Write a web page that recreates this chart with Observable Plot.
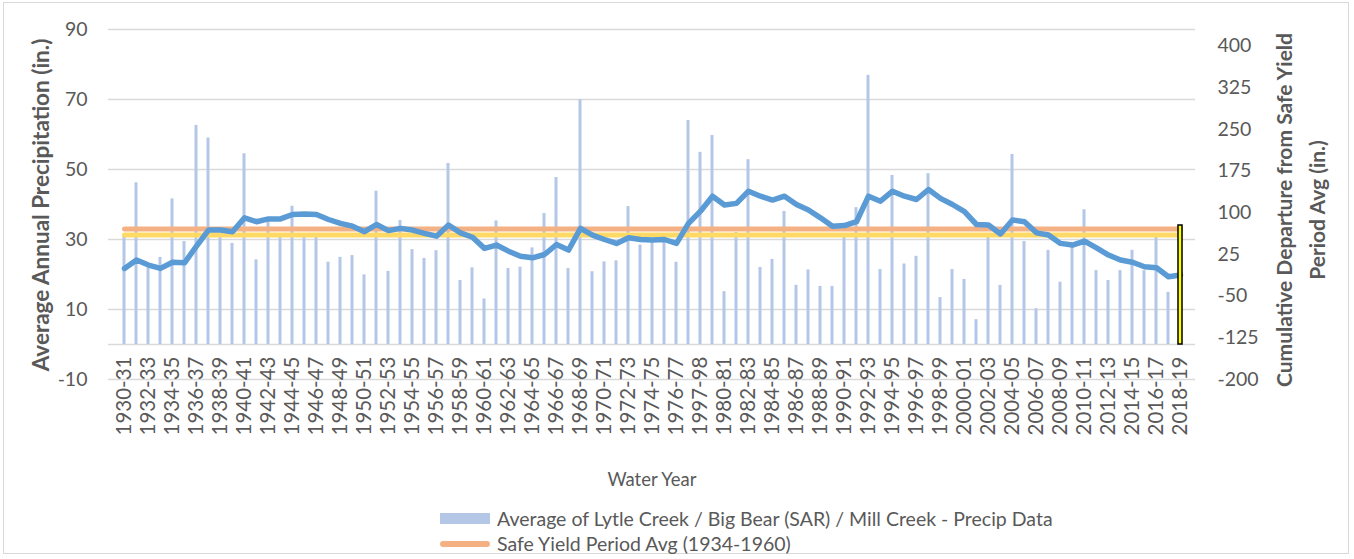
<!DOCTYPE html>
<html><head><meta charset="utf-8">
<script src="https://cdn.jsdelivr.net/npm/d3@7"></script>
<script src="https://cdn.jsdelivr.net/npm/@observablehq/plot@0.6"></script>
<style>
body{margin:0;background:#fff;}
#wrap{position:relative;width:1354px;height:559px;overflow:hidden;font-family:Lato,"Open Sans",sans-serif;}
#frame{position:absolute;left:3px;top:2px;width:1346px;height:552px;border:1px solid #d9d9d9;box-sizing:border-box;}
#chart{position:absolute;left:0;top:0;}
#legend{position:absolute;left:440px;top:506px;color:#595959;font-size:19.5px;line-height:25px;}
.item{display:flex;align-items:center;height:25px;white-space:nowrap;}
.sw{width:50px;margin-right:7px;}
</style></head><body>
<div id="wrap"><div id="frame"></div><div id="chart"></div><div id="legend"></div></div>
<script>
// Tick labels shown under every other water year (as printed in the source, incl. "1997-98")
const tickLabels = ["1930-31","1932-33","1934-35","1936-37","1938-39","1940-41","1942-43","1944-45","1946-47","1948-49",
"1950-51","1952-53","1954-55","1956-57","1958-59","1960-61","1962-63","1964-65","1966-67","1968-69",
"1970-71","1972-73","1974-75","1976-77","1997-98","1980-81","1982-83","1984-85","1986-87","1988-89",
"1990-91","1992-93","1994-95","1996-97","1998-99","2000-01","2002-03","2004-05","2006-07","2008-09",
"2010-11","2012-13","2014-15","2016-17","2018-19"];

// Average annual precipitation (in.), one per water year 1930-31 .. 2018-19
const precip = [31,46.2,21.9,24.9,41.6,29.4,62.6,59,31.5,28.9,
54.5,24.2,35.5,31.5,39.5,31.5,31.5,23.5,24.9,25.4,
19.9,43.8,20.9,35.4,27.1,24.6,26.8,51.7,18.3,21.9,
13.0,35.3,21.7,22.1,27.6,37.4,47.7,21.7,69.9,20.8,
23.6,23.9,39.4,28.4,30,31.5,23.5,64,54.9,59.7,
15.1,32,52.8,22,24.3,38,16.9,21.3,16.6,16.6,
31.5,39.1,76.9,21.4,48.3,23,25.2,48.8,13.4,21.4,
18.6,7.1,31.5,16.9,54.3,29.4,10.2,26.9,17.8,28,
38.5,21.1,18.3,21.1,26.9,21.1,31,14.9,34];

// Cumulative departure from safe yield period avg (in.), right axis
const cumDeparture = [0,15,6,0,11,10,40,69,69,66,
91,84,89,89,97,98,97,88,81,76,
66,79,68,72,69,63,58,78,64,56,
36,42,31,22,19,25,43,33,72,60,
52,45,55,52,51,52,45,81,103,130,
114,117,139,130,123,130,115,105,91,76,
77,84,130,121,139,130,124,142,126,115,
102,79,78,62,87,84,64,60,45,42,
49,37,24,15,11,3,1,-15,-12];

const safeYieldAvg = 33.0;   // Safe Yield Period Avg (1934-1960)
const yellowRef = 31.3;      // second reference line
const leftTicks = [-10,10,30,50,70,90];
const rightTicks = [-200,-125,-50,25,100,175,250,325,400];
const legendLabels = ["Average of Lytle Creek / Big Bear (SAR) / Mill Creek - Precip Data","Safe Yield Period Avg (1934-1960)"];
const axisTitles = {left:"Average Annual Precipitation (in.)", right1:"Cumulative Departure from Safe Yield", right2:"Period Avg (in.)", x:"Water Year"};

const n = precip.length;
const idx = d3.range(n);
const toLeft = d3.scaleLinear([-200, 430], [-10, 90]);
const txt = "#595959";

const plot = Plot.plot({
  width: 1354, height: 500,
  marginLeft: 108, marginRight: 159, marginTop: 29, marginBottom: 121,
  x: {type: "band", domain: idx, padding: 0, axis: null},
  y: {domain: [-10, 90], axis: null},
  style: {fontFamily: "Lato, 'Open Sans', sans-serif", color: txt, background: "transparent", overflow: "visible"},
  marks: [
    Plot.ruleY(leftTicks, {stroke: "#d9d9d9", strokeWidth: 1.3}),
    Plot.ruleY([0], {stroke: "#d9d9d9", strokeWidth: 1.3}),
    Plot.text(tickLabels, {x: (d,i) => i*2, y: () => 0, rotate: -90, textAnchor: "end", dy: 12, fontSize: 20.5, fill: txt}),
    Plot.barY(idx, {x: d => d, y: i => precip[i], fill: "#b4c7e7", insetLeft: 4.5, insetRight: 4.5}),
    Plot.lineY(idx, {x: d => d, y: () => yellowRef, stroke: "#ffd966", strokeWidth: 5}),
    Plot.lineY(idx, {x: d => d, y: () => safeYieldAvg, stroke: "#f4b183", strokeWidth: 5}),
    Plot.lineY(idx, {x: d => d, y: i => toLeft(cumDeparture[i]), stroke: "#5b9bd5", strokeWidth: 5.5, strokeLinejoin: "round"}),
    Plot.barY([n-1], {x: d => d, y: i => precip[i], fill: "#ffff00", stroke: "#000", strokeWidth: 1.5, insetLeft: 4, insetRight: 4}),
    Plot.axisY(leftTicks, {anchor: "left", tickSize: 0, tickPadding: 21, tickFormat: d => String(d), fontSize: 19.5, fill: txt, label: null}),
    Plot.axisY(rightTicks.map(v => toLeft(v)), {anchor: "right", tickSize: 0, tickPadding: 22, tickFormat: d => String(Math.round(toLeft.invert(d))), fontSize: 19.5, fill: txt, label: null})
  ]
});
document.getElementById("chart").appendChild(plot);

const svg = d3.select(plot);
function title(t, x, y, rot, size, weight) {
  svg.append("text").attr("transform", `translate(${x},${y}) rotate(${rot})`)
    .attr("text-anchor", "middle").attr("dominant-baseline", "middle")
    .attr("fill", txt).attr("font-size", size).attr("font-weight", weight)
    .attr("font-family", "Lato, 'Open Sans', sans-serif").text(t);
}
title(axisTitles.left, 43, 205, -90, 22.5, "bold");
title(axisTitles.right1, 1287, 210, -90, 21, "bold");
title(axisTitles.right2, 1320, 210, -90, 21, "bold");
title(axisTitles.x, 652, 481, 0, 18.5, "normal");

const legend = d3.select("#legend");
const it1 = legend.append("div").attr("class", "item");
it1.append("div").attr("class", "sw").style("height", "11px").style("background", "#b4c7e7");
it1.append("span").text(legendLabels[0]);
const it2 = legend.append("div").attr("class", "item");
it2.append("div").attr("class", "sw").style("height", "6px").style("border-radius", "3px").style("background", "#f4b183");
it2.append("span").text(legendLabels[1]);
</script>
</body></html>
